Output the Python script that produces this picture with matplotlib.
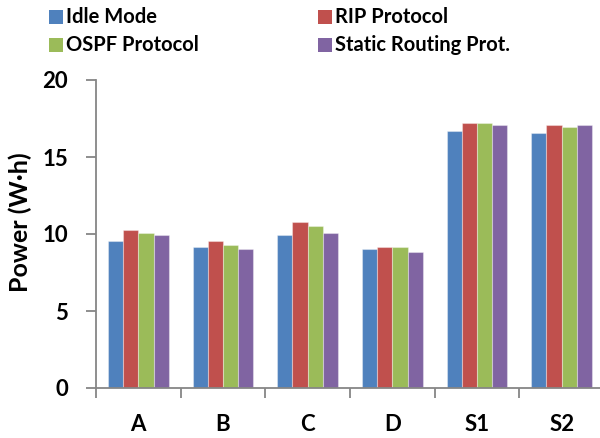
import matplotlib
matplotlib.use("Agg")
import matplotlib.pyplot as plt
from matplotlib.patches import Rectangle
import numpy as np

plt.rcParams['font.family'] = ['Lato', 'DejaVu Sans']
plt.rcParams['font.weight'] = 'bold'

categories = ["A", "B", "C", "D", "S1", "S2"]
series_names = ["Idle Mode", "RIP Protocol", "OSPF Protocol", "Static Routing Prot."]
idle_mode = [9.55, 9.18, 9.94, 9.05, 16.69, 16.56]
rip_protocol = [10.28, 9.55, 10.80, 9.18, 17.19, 17.06]
ospf_protocol = [10.05, 9.29, 10.54, 9.18, 17.19, 16.95]
static_routing = [9.94, 9.03, 10.05, 8.83, 17.06, 17.06]
colors = ["#4F81BD", "#C0504D", "#9BBB59", "#8064A2"]
yticks = [0, 5, 10, 15, 20]

series = [idle_mode, rip_protocol, ospf_protocol, static_routing]

W, H = 600, 438
fig = plt.figure(figsize=(W / 100, H / 100), dpi=100)
ax = fig.add_axes([96 / W, 50 / H, 508 / W, 308 / H])

x = np.arange(len(categories))
bar_w = 0.18
for i, (vals, col) in enumerate(zip(series, colors)):
    ax.bar(x + (i - 1.5) * bar_w, vals, width=bar_w, color=col,
           edgecolor=(1, 1, 1, 0.35), linewidth=0.8, zorder=2)

ax.set_xlim(-0.5, len(categories) - 0.5)
ax.set_ylim(0, 20)
ax.set_yticks(yticks)
ax.set_yticklabels([str(t) for t in yticks], fontsize=16, fontweight='bold')

# category labels centred, tick marks on the category boundaries
ax.set_xticks(x)
ax.set_xticklabels(categories, fontsize=16, fontweight='bold')
ax.tick_params(axis='x', which='major', length=0, pad=19)
ax.set_xticks(np.arange(-0.5, len(categories), 1.0), minor=True)
ax.tick_params(axis='x', which='minor', length=7, width=1.3, color='#868686', direction='out')
ax.tick_params(axis='y', length=7, width=1.3, color='#868686', direction='out', pad=13)

for side in ['top', 'right']:
    ax.spines[side].set_visible(False)
for side in ['left', 'bottom']:
    ax.spines[side].set_color('#868686')
    ax.spines[side].set_linewidth(1.3)

ax.set_ylabel("Power (W·h)", fontsize=18, fontweight='bold')
ax.yaxis.set_label_coords((32 - 96) / 508, 0.537)

# legend laid out as a 2x2 grid of swatches and names (pixel positions)
col_x = [49, 318]
row_y = [10, 38]
sw = 14
for k, (name, col) in enumerate(zip(series_names, colors)):
    px, py = col_x[k % 2], row_y[k // 2]
    fig.add_artist(Rectangle((px / W, 1 - (py + sw) / H), sw / W, sw / H,
                             transform=fig.transFigure, facecolor=col,
                             edgecolor='none'))
    fig.text((px + sw + 3) / W, 1 - (py + sw / 2) / H, name,
             fontsize=14.5, fontweight='bold', ha='left', va='center')

fig.savefig("out.png", dpi=100)
